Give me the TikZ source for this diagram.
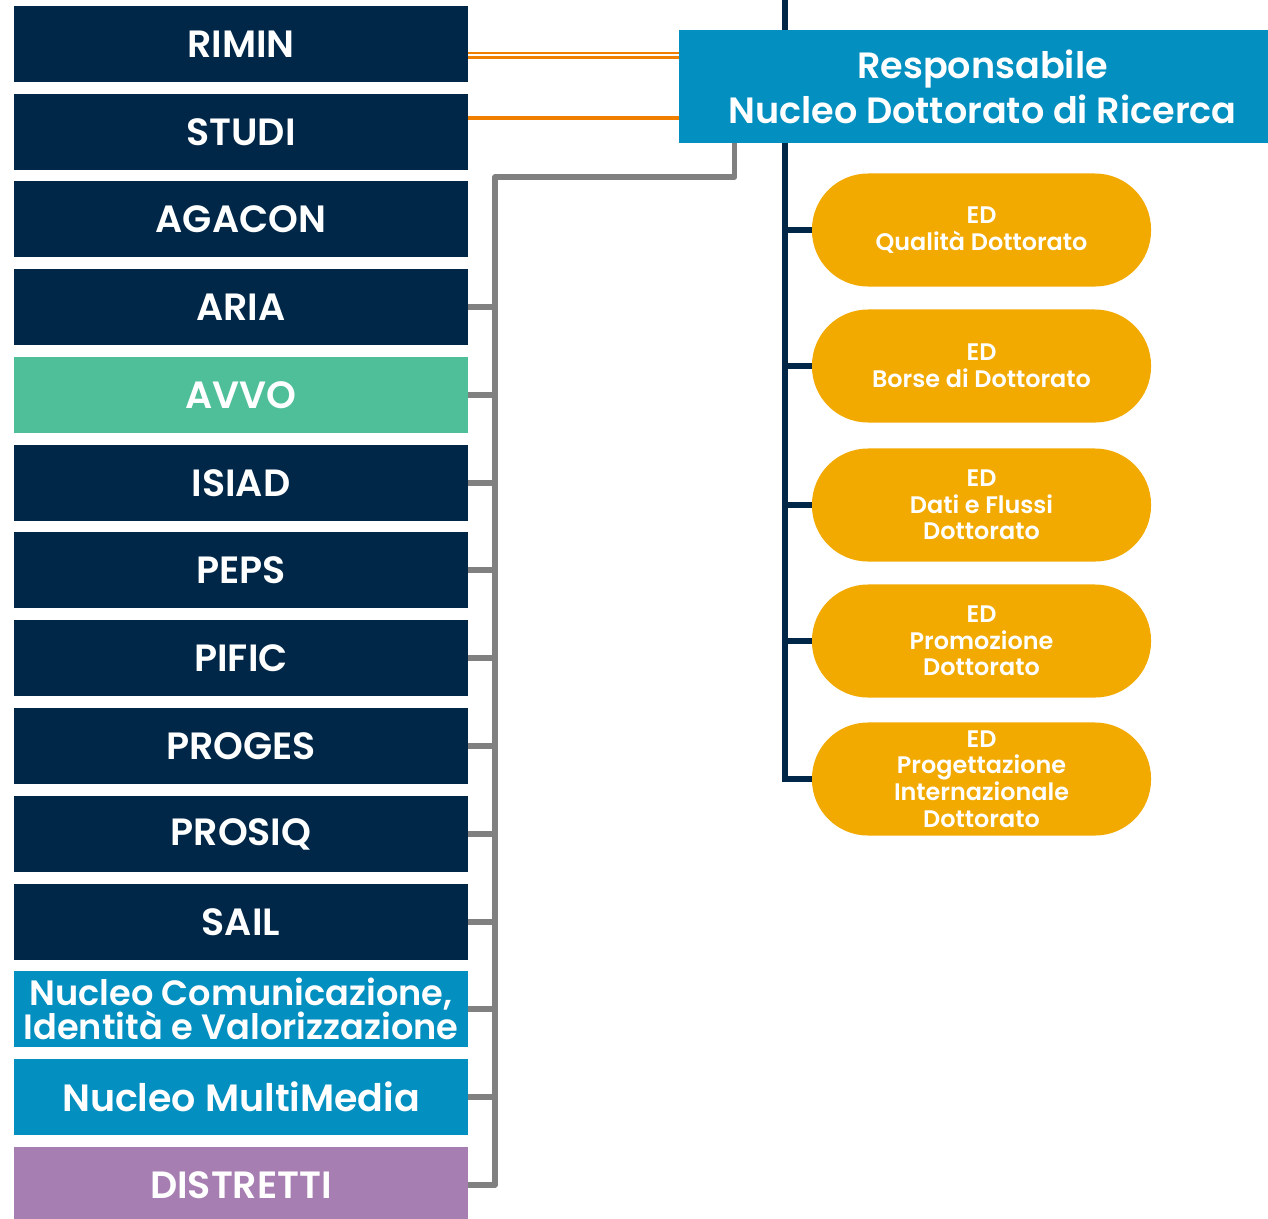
\documentclass[tikz,border=0pt]{standalone}
\usepackage{fontspec}
\setmainfont{Poppins}[BoldFont={* SemiBold}]
\definecolor{navyc}{RGB}{0,39,72}
\definecolor{bluec}{RGB}{3,143,191}
\definecolor{greenc}{RGB}{79,191,154}
\definecolor{purplec}{RGB}{166,126,178}
\definecolor{goldc}{RGB}{242,170,0}
\definecolor{orangec}{RGB}{240,127,0}
\definecolor{grayc}{RGB}{128,128,128}
\tikzset{
  unit/.style={rectangle, fill=navyc, text=white, inner sep=0pt,
    minimum width=11.35cm, minimum height=1.9cm, align=center,
    font=\bfseries\fontsize{27}{29}\selectfont},
  edbox/.style={rectangle, rounded corners=1.4cm, fill=goldc, text=white,
    inner sep=0pt, minimum width=8.475cm, minimum height=2.825cm, align=center,
    font=\bfseries\fontsize{17}{19}\selectfont},
  grayline/.style={draw=grayc, line width=4pt},
  navyline/.style={draw=navyc, line width=4pt},
}
\begin{document}
\begin{tikzpicture}[x=0.025cm, y=-0.025cm]
\useasboundingbox (0,0) rectangle (1268,1218);
% left column
\node[unit] (rimin) at (241,44) {RIMIN};
\node[unit] (studi) at (241,132) {STUDI};
\node[unit] (agacon) at (241,219) {AGACON};
\node[unit] (aria) at (241,307) {ARIA};
\node[unit, fill=greenc] (avvo) at (241,395) {AVVO};
\node[unit] (isiad) at (241,483) {ISIAD};
\node[unit] (peps) at (241,570) {PEPS};
\node[unit] (pific) at (241,658) {PIFIC};
\node[unit] (proges) at (241,746) {PROGES};
\node[unit] (prosiq) at (241,834) {PROSIQ};
\node[unit] (sail) at (241,922) {SAIL};
\node[unit, fill=bluec, font=\bfseries\fontsize{25}{23}\selectfont] (ncom) at (241,1009) {Nucleo Comunicazione,\\Identità e Valorizzazione};
\node[unit, fill=bluec] (nmm) at (241,1097) {Nucleo MultiMedia};
\node[unit, fill=purplec] (distretti) at (241,1185) {DISTRETTI};
% head
\node[rectangle, fill=bluec, text=white, inner sep=0pt, minimum width=14.725cm,
  minimum height=2.825cm, align=center, font=\bfseries\fontsize{26}{32}\selectfont]
  (resp) at (973.5,86.5) {\hspace*{0.45cm}Responsabile\\\hspace*{0.45cm}Nucleo Dottorato di Ricerca};
% right column
\node[edbox] (ed1) at (981.5,230) {ED\\Qualità Dottorato};
\node[edbox] (ed2) at (981.5,366) {ED\\Borse di Dottorato};
\node[edbox] (ed3) at (981.5,505) {ED\\Dati e Flussi\\Dottorato};
\node[edbox] (ed4) at (981.5,641) {ED\\Promozione\\Dottorato};
\node[edbox] (ed5) at (981.5,779) {ED\\Progettazione\\Internazionale\\Dottorato};
% staff links
\draw[draw=orangec, line width=1.6pt, double=white, double distance=1.6pt]
  ([yshift=-0.28cm]rimin.east) coordinate (r1) -- (r1 -| resp.west);
\draw[draw=orangec, line width=3.5pt]
  ([yshift=0.35cm]studi.east) coordinate (s1) -- (s1 -| resp.west);
% gray tree
\coordinate (gk) at (495,177);
\draw[grayline, line join=round] ([xshift=1.4cm]resp.south west) |- (gk)
  -- (gk |- distretti.east) -- (distretti.east);
\foreach \n in {aria,avvo,isiad,peps,pific,proges,prosiq,sail,ncom,nmm}
  \draw[grayline] (\n.east) -- (\n.east -| gk);
% navy tree
\coordinate (nt) at (785,0);
\draw[navyline] (nt) -- (nt |- resp.north);
\draw[navyline] (nt |- resp.south) |- (ed5.west);
\foreach \n in {ed1,ed2,ed3,ed4}
  \draw[navyline] (\n.west) -- (\n.west -| nt);
\end{tikzpicture}
\end{document}
